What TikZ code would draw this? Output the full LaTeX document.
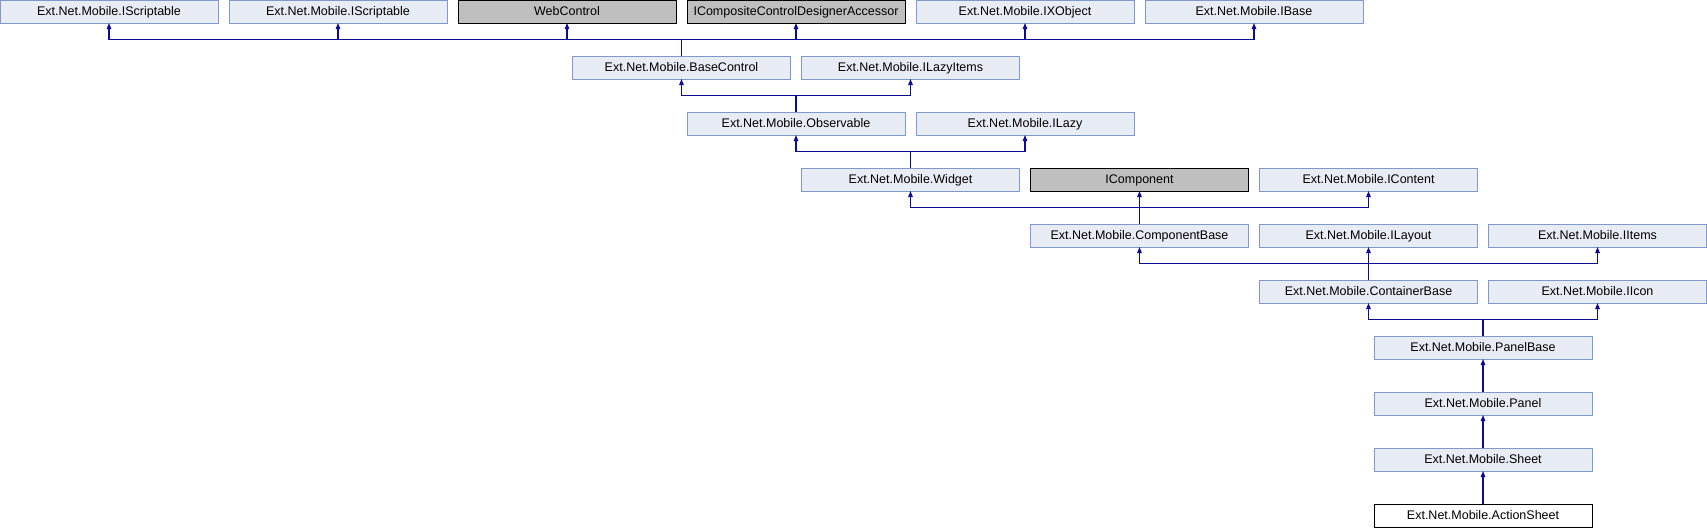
\documentclass[tikz,border=0pt]{standalone}
\usepackage{fontspec}
\setmainfont{Liberation Sans}
\usepackage{xcolor}
\usetikzlibrary{arrows.meta}
\usetikzlibrary{positioning}

\definecolor{boxfill}{HTML}{E8ECF5}
\definecolor{boxline}{HTML}{7F98CE}
\definecolor{extfill}{HTML}{BFBFBF}
\definecolor{linkblue}{HTML}{0C0C96}

\begin{document}
\begin{tikzpicture}[x=1pt, y=1pt, >={Triangle[length=6pt, width=4.5pt]}, node distance=33pt and 11pt]
\tikzstyle{cls} = [draw=boxline, fill=boxfill, text=black, line width=0.9pt, minimum width=218pt, minimum height=23pt, inner sep=0pt, outer sep=0pt, text height=9pt, text depth=1pt, font=\fontsize{12.5}{14}\selectfont]
\tikzstyle{ext} = [cls, draw=black, fill=extfill]
\tikzstyle{focus} = [cls, draw=black, fill=white]
\tikzstyle{link} = [->, draw=linkblue, line width=1.2pt]

\useasboundingbox (0,0) rectangle (1707,-528);

% top row
\node[cls, anchor=north west] (is1) at (0,0) {Ext.Net.Mobile.IScriptable};
\node[cls] (is2)[right=of is1] {Ext.Net.Mobile.IScriptable};
\node[ext] (web)[right=of is2] {WebControl};
\node[ext] (icc)[right=of web] {ICompositeControlDesignerAccessor};
\node[cls] (ixo)[right=of icc] {Ext.Net.Mobile.IXObject};
\node[cls] (ibase)[right=of ixo] {Ext.Net.Mobile.IBase};

\node[cls] (basectl)[below=of web, xshift=114.5pt] {Ext.Net.Mobile.BaseControl};
\node[cls] (lazyitems)[right=of basectl] {Ext.Net.Mobile.ILazyItems};

\node[cls] (observ)[below=of basectl, xshift=114.5pt] {Ext.Net.Mobile.Observable};
\node[cls] (ilazy)[right=of observ] {Ext.Net.Mobile.ILazy};

\node[cls] (widget)[below=of observ, xshift=114.5pt] {Ext.Net.Mobile.Widget};
\node[ext] (icomp)[right=of widget] {IComponent};
\node[cls] (icontent)[right=of icomp] {Ext.Net.Mobile.IContent};

\node[cls] (compbase)[below=of icomp] {Ext.Net.Mobile.ComponentBase};
\node[cls] (ilayout)[right=of compbase] {Ext.Net.Mobile.ILayout};
\node[cls] (iitems)[right=of ilayout] {Ext.Net.Mobile.IItems};

\node[cls] (contbase)[below=of ilayout] {Ext.Net.Mobile.ContainerBase};
\node[cls] (iicon)[right=of contbase] {Ext.Net.Mobile.IIcon};

\node[cls] (panelbase)[below=of contbase, xshift=114.5pt] {Ext.Net.Mobile.PanelBase};
\node[cls] (panel)[below=of panelbase] {Ext.Net.Mobile.Panel};
\node[cls] (sheet)[below=of panel] {Ext.Net.Mobile.Sheet};
\node[focus] (action)[below=of sheet] {Ext.Net.Mobile.ActionSheet};

% inheritance links
\foreach \p in {is1, is2, web, icc, ixo, ibase}
  \draw[link] (basectl.north) -- ++(0,16.5) -| (\p.south);
\foreach \p in {basectl, lazyitems}
  \draw[link] (observ.north) -- ++(0,16.5) -| (\p.south);
\foreach \p in {observ, ilazy}
  \draw[link] (widget.north) -- ++(0,16.5) -| (\p.south);
\foreach \p in {widget, icomp, icontent}
  \draw[link] (compbase.north) -- ++(0,16.5) -| (\p.south);
\foreach \p in {compbase, ilayout, iitems}
  \draw[link] (contbase.north) -- ++(0,16.5) -| (\p.south);
\foreach \p in {contbase, iicon}
  \draw[link] (panelbase.north) -- ++(0,16.5) -| (\p.south);
\draw[link] (panel.north) -- (panelbase.south);
\draw[link] (sheet.north) -- (panel.south);
\draw[link] (action.north) -- (sheet.south);

\end{tikzpicture}
\end{document}
